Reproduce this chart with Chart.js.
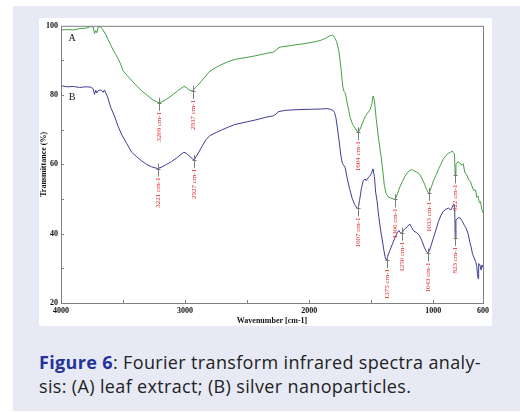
<!DOCTYPE html>
<html>
<head>
<meta charset="utf-8">
<script src="https://cdn.jsdelivr.net/npm/chart.js@4/dist/chart.umd.min.js"></script>
<style>
  body { margin: 0; background: #fff; width: 520px; height: 413px; overflow: hidden; position: relative; }
  #panel { position: absolute; left: 13px; top: 6px; width: 507px; height: 405px; background: #e7eaf5; }
  #box { position: absolute; left: 39px; top: 18px; width: 453px; height: 308px; background: #fff; }
  #caption { position: absolute; left: 39px; top: 350px; font: 18px "Open Sans", sans-serif; line-height: 24px; letter-spacing: 0.35px; color: #222; white-space: nowrap; }
  #caption b { color: #24339a; }
</style>
</head>
<body>
<div id="panel"></div>
<div id="box"><canvas id="ftir" width="453" height="308"></canvas></div>
<div id="caption"><b>Figure 6</b>: Fourier transform infrared spectra analy-<br>sis: (A) leaf extract; (B) silver nanoparticles.</div>
<script>
// spectrum A - leaf extract (wavenumber, transmittance)
const wnA = [4000,3950,3900,3850,3800,3760,3740,3730,3720,3712,3700,3680,3665,3640,3620,3600,3580,3560,3540,3520,3500,3450,3400,3350,3300,3260,3230,3209,3190,3160,3130,3100,3060,3030,3010,2990,2970,2950,2937,2920,2900,2870,2840,2810,2770,2720,2650,2600,2500,2440,2350,2290,2268,2250,2228,2150,2050,1950,1900,1860,1830,1815,1800,1780,1760,1745,1730,1720,1710,1690,1670,1650,1630,1615,1604,1590,1570,1550,1530,1510,1495,1486,1475,1460,1440,1420,1410,1395,1380,1360,1340,1320,1306,1290,1270,1250,1230,1210,1190,1175,1160,1135,1111,1090,1071,1055,1039,1033,1020,1000,980,960,940,920,900,880,860,850,840,830,824,818,800,785,770,760,745,730,715,700,690,675,660,650,640,630,620,610,600];
const tA = [98.8,98.9,98.8,99.2,99.3,99.8,99.6,97.8,98.6,98.0,99.6,99.7,99.0,97.5,96.0,94.5,93.0,91.8,90.5,89.0,87.0,85.0,83.0,81.2,79.8,78.6,78.1,77.8,78.0,78.6,79.3,80.1,81.2,82.0,82.5,82.2,81.5,81.3,81.2,82.0,82.7,84.0,85.2,86.6,87.6,88.6,89.7,90.3,90.9,91.3,92.0,92.4,92.9,93.6,93.9,94.3,94.8,95.4,95.9,96.6,97.2,97.3,96.9,95.5,92.5,88.0,82.5,81.0,80.7,77.0,73.5,71.5,70.5,69.5,69.3,70.2,72.0,73.8,74.8,75.8,77.5,79.7,78.5,73.0,67.0,62.0,59.0,54.0,51.5,50.5,50.3,50.0,49.9,51.5,53.5,55.0,56.5,57.5,58.3,58.5,58.2,57.8,57.2,55.8,54.3,52.8,51.8,51.9,53.0,55.2,56.8,58.5,60.0,61.5,62.5,63.2,63.5,63.9,63.4,63.0,56.8,60.0,60.8,60.2,59.8,60.2,57.5,57.0,55.5,55.0,53.8,52.5,52.6,50.5,50.9,49.0,49.3,47.0,46.0];

// spectrum B - silver nanoparticles
const wnB = [4000,3950,3900,3850,3800,3760,3740,3730,3720,3712,3700,3680,3660,3650,3625,3600,3570,3540,3510,3470,3430,3390,3350,3310,3270,3221,3190,3150,3110,3070,3040,3010,2990,2960,2940,2927,2910,2890,2867,2835,2800,2750,2707,2650,2600,2500,2436,2350,2290,2268,2250,2196,2100,2000,1900,1853,1829,1810,1797,1785,1773,1760,1745,1733,1720,1710,1694,1675,1654,1635,1614,1605,1595,1580,1565,1550,1540,1530,1515,1500,1486,1475,1465,1454,1440,1425,1414,1400,1390,1382,1375,1365,1350,1330,1310,1290,1278,1262,1250,1240,1230,1210,1190,1175,1159,1135,1111,1090,1071,1055,1043,1030,1015,999,980,959,940,919,900,879,865,855,845,835,828,824,818,800,784,770,750,736,720,705,696,685,672,660,650,645,640,635,625,615,608,600];
const tB = [82.7,82.4,82.5,82.2,82.4,82.3,81.8,80.2,81.4,80.6,81.3,81.5,80.8,81.5,79.5,76.5,74.0,71.0,68.5,66.0,63.5,62.2,61.0,60.0,59.3,58.8,59.2,60.0,60.8,61.8,62.7,63.5,63.2,62.2,61.6,61.3,62.3,63.5,65.0,67.0,68.3,69.2,69.9,70.8,71.5,72.3,72.8,73.6,74.0,74.5,75.2,75.6,75.8,75.9,76.0,76.1,75.9,75.6,75.0,73.5,70.5,67.0,62.5,60.3,59.6,59.0,56.0,53.0,50.2,48.5,47.3,47.4,49.5,53.0,55.3,55.8,55.3,56.0,56.5,57.3,58.7,56.5,52.0,49.5,45.0,41.0,38.8,35.5,33.5,32.5,32.4,33.8,35.2,37.0,38.8,40.3,40.9,40.1,40.3,41.0,41.4,42.0,42.8,41.8,40.8,40.3,39.4,37.8,35.9,34.8,34.3,35.2,37.0,38.8,41.0,43.5,45.2,46.5,47.0,47.4,47.0,47.0,48.0,48.5,47.5,38.8,44.0,44.6,44.5,43.8,42.4,41.6,40.0,37.4,36.2,34.3,33.0,32.0,30.5,28.5,27.1,31.4,31.0,29.5,31.0,30.2];

// marked peaks
const peaksA = [3209, 2937, 1604, 1306, 1033, 822];
const peakTA = [77.8, 81.2, 69.3, 49.9, 51.8, 56.8];
const peaksB = [3221, 2927, 1607, 1375, 1250, 1043, 823];
const peakTB = [58.8, 61.3, 47.3, 32.4, 40.3, 34.3, 38.8];

// curve names
const curveNames = ['A', 'B'];
const curveNameWn = [3910, 3910];
const curveNameT = [96.4, 79.4];

// axis ticks
const xLabelTicks = [4000, 3000, 2000, 1000, 600];
const xMarkTicks = [3500, 3000, 2500, 2000, 1500, 1000];
const yLabelTicks = [20, 40, 60, 80, 100];
const yMarkTicks = [30, 40, 50, 60, 70, 80, 90];

const serifBold = { family: '"Liberation Serif", "DejaVu Serif", serif', size: 8, weight: 'bold' };

function pts(xs, ys) {
  return xs.map((v, i) => ({ x: v, y: ys[i] }));
}

function drawPeaks(ctx, x, y, wns, vals) {
  wns.forEach((wn, i) => {
    const px = Math.round(x.getPixelForValue(wn)) + 0.5;
    const py = y.getPixelForValue(vals[i]);
    ctx.strokeStyle = '#7a7a7a';
    ctx.lineWidth = 1;
    ctx.beginPath();
    ctx.moveTo(px, py - 5); ctx.lineTo(px, py + 8);
    ctx.moveTo(px - 2, Math.round(py) + 0.5); ctx.lineTo(px + 2, Math.round(py) + 0.5);
    ctx.stroke();
    ctx.save();
    ctx.translate(px, py + 9);
    ctx.rotate(-Math.PI / 2);
    ctx.fillStyle = '#e02a2a';
    ctx.font = '7px "Liberation Serif", serif';
    ctx.textAlign = 'right';
    ctx.textBaseline = 'middle';
    ctx.fillText(wn + ' cm-1', 0, 0);
    ctx.restore();
  });
}

const decor = {
  id: 'decor',
  afterDatasetsDraw(chart) {
    const { ctx, chartArea: a, scales: { x, y } } = chart;
    ctx.save();
    // frame
    ctx.strokeStyle = '#808080';
    ctx.lineWidth = 1;
    ctx.strokeRect(a.left + 0.5, a.top + 0.5, a.right - a.left, a.bottom - a.top);
    // inward tick marks
    ctx.beginPath();
    xMarkTicks.forEach(v => {
      const px = Math.round(x.getPixelForValue(v)) + 0.5;
      ctx.moveTo(px, a.bottom); ctx.lineTo(px, a.bottom - 3);
    });
    yMarkTicks.forEach(v => {
      const py = Math.round(y.getPixelForValue(v)) + 0.5;
      ctx.moveTo(a.left, py); ctx.lineTo(a.left + 3, py);
    });
    ctx.stroke();
    // peak labels
    drawPeaks(ctx, x, y, peaksA, peakTA);
    drawPeaks(ctx, x, y, peaksB, peakTB);
    // curve names
    ctx.fillStyle = '#111';
    ctx.font = '10px "Liberation Serif", serif';
    ctx.textAlign = 'center';
    ctx.textBaseline = 'middle';
    curveNames.forEach((n, i) => {
      ctx.fillText(n, x.getPixelForValue(curveNameWn[i]), y.getPixelForValue(curveNameT[i]));
    });
    ctx.restore();
  }
};

const chart = new Chart(document.getElementById('ftir').getContext('2d'), {
  type: 'line',
  data: {
    datasets: [{
      label: 'A',
      data: pts(wnA, tA),
      borderColor: '#45a045',
      borderWidth: 1,
      pointRadius: 0,
      tension: 0
    }, {
      label: 'B',
      data: pts(wnB, tB),
      borderColor: '#3e3e95',
      borderWidth: 1,
      pointRadius: 0,
      tension: 0
    }]
  },
  options: {
    responsive: false,
    animation: false,
    layout: { padding: { top: 4, right: 5, left: 0, bottom: 0 } },
    plugins: { legend: { display: false }, tooltip: { enabled: false } },
    scales: {
      x: {
        type: 'linear',
        reverse: true,
        min: 600,
        max: 4000,
        afterBuildTicks: s => { s.ticks = xLabelTicks.map(v => ({ value: v })); },
        afterFit: s => { s.height = 23; },
        grid: { display: false, drawTicks: false },
        border: { display: false },
        ticks: { font: serifBold, color: '#111', padding: 3, maxRotation: 0, autoSkip: false, callback: v => String(v) },
        title: { display: true, text: 'Wavenumber [cm-1]', font: serifBold, color: '#111', padding: 0 }
      },
      y: {
        min: 20,
        max: 100,
        afterBuildTicks: s => { s.ticks = yLabelTicks.map(v => ({ value: v })); },
        afterFit: s => { s.width = 22; },
        grid: { display: false, drawTicks: false },
        border: { display: false },
        ticks: { font: serifBold, color: '#111', padding: 3, callback: v => String(v) },
        title: { display: true, text: 'Transmittance (%)', font: serifBold, color: '#111', padding: 0 }
      }
    }
  },
  plugins: [decor]
});
</script>
</body>
</html>
